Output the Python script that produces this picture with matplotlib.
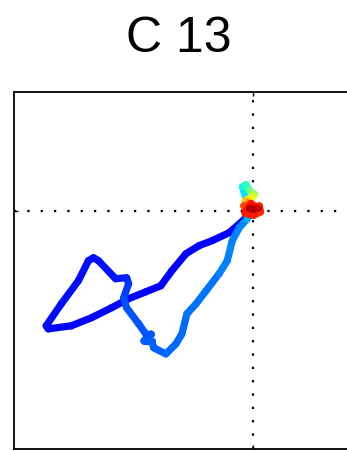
import numpy as np
import matplotlib
matplotlib.use("Agg")
import matplotlib.pyplot as plt
from matplotlib.collections import LineCollection

title = "C 13"

# trajectory (data units), ordered in time
traj_x = [-0.017, -0.059, -0.202, -0.345, -0.454, -0.563, -0.681, -0.773, -0.899, -1.042,
          -1.185, -1.353, -1.521, -1.714, -1.731, -1.605, -1.462, -1.378, -1.336, -1.294,
          -1.151, -1.059, -1.042, -1.084,
          -1.059, -0.958, -0.899, -0.857, -0.916, -0.849, -0.832, -0.731, -0.647, -0.597,
          -0.555, -0.479, -0.395, -0.286, -0.218, -0.176, -0.118, -0.050,
          -0.034, -0.076, -0.090, -0.060, -0.030, 0.008, 0.000, -0.034, -0.067, -0.040,
          -0.017, -0.080, -0.060, 0.050, 0.060, 0.000, -0.070, -0.020, 0.040, -0.034, 0.000]
traj_y = [-0.008, -0.059, -0.185, -0.252, -0.294, -0.361, -0.504, -0.630, -0.681, -0.739,
          -0.815, -0.899, -0.966, -0.992, -0.966, -0.782, -0.588, -0.420, -0.395, -0.420,
          -0.571, -0.563, -0.613, -0.731,
          -0.815, -0.950, -1.034, -1.034, -1.092, -1.092, -1.151, -1.202, -1.118, -1.034,
          -0.866, -0.782, -0.672, -0.529, -0.420, -0.252, -0.143, -0.067,
          0.042, 0.150, 0.200, 0.220, 0.165, 0.140, 0.120, 0.101, 0.085, 0.070,
          0.059, 0.040, 0.000, 0.040, -0.010, -0.040, -0.020, 0.060, 0.020, 0.020, 0.010]
# colour value along time (jet colormap)
traj_c = [0.11, 0.11, 0.11, 0.12, 0.12, 0.12, 0.12, 0.12, 0.12, 0.13,
          0.13, 0.13, 0.13, 0.13, 0.13, 0.14, 0.14, 0.14, 0.14, 0.14,
          0.14, 0.15, 0.16, 0.18,
          0.20, 0.21, 0.21, 0.21, 0.21, 0.22, 0.22, 0.22, 0.23, 0.23,
          0.23, 0.24, 0.24, 0.24, 0.25, 0.25, 0.25, 0.26,
          0.30, 0.33, 0.35, 0.37, 0.42, 0.50, 0.55, 0.62, 0.66, 0.70,
          0.74, 0.80, 0.84, 0.86, 0.87, 0.87, 0.88, 0.88, 0.89, 0.93, 0.95]

xlim = (-2.0, 1.0)
ylim = (-2.0, 1.0)

fig = plt.figure(figsize=(3.47, 4.51), dpi=100)
ax = fig.add_axes([14/347, 2/451, 359/347, 357.5/451])
ax.set_xlim(*xlim)
ax.set_ylim(*ylim)

ax.axhline(0, color="black", linestyle=(0, (1, 5)), linewidth=1.6, zorder=1)
ax.axvline(0, color="black", linestyle=(0, (1, 5)), linewidth=1.6, zorder=1)

pts = np.column_stack([traj_x, traj_y])
segs = np.stack([pts[:-1], pts[1:]], axis=1)
cmap = plt.get_cmap("jet")
cols = [cmap(c) for c in traj_c[1:]]
lc = LineCollection(segs, colors=cols, linewidths=5.2, capstyle="round", joinstyle="round", zorder=3)
ax.add_collection(lc)

ax.set_xticks([0])
ax.set_yticks([0])
ax.set_xticklabels([])
ax.set_yticklabels([])
ax.tick_params(direction="in", length=3, width=1, top=True, right=True)
for s in ax.spines.values():
    s.set_linewidth(1.3)
    s.set_color("black")

fig.text(179/347, 1 - 52/451, title, ha="center", va="baseline",
         fontsize=36, family=["Liberation Sans", "DejaVu Sans"])

fig.savefig("out.png", dpi=100)
